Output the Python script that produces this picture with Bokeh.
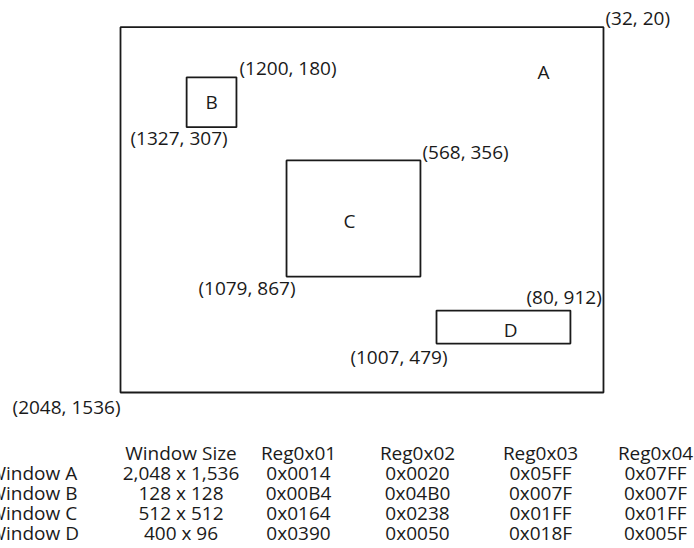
from bokeh.plotting import figure
from bokeh.models import ColumnDataSource, Range1d
from bokeh.layouts import column
from bokeh.embed import file_html
from bokeh.resources import INLINE
from bokeh.core.properties import value

# ---------------- data ----------------
# Windows drawn (schematically) in sensor coordinates: x = column (2048 left .. 32 right), y = row (20 top .. 1536 bottom)
window_names = ["A", "B", "C", "D"]
win_x_left = [2048, 1772, 1355, 729]
win_x_right = [32, 1564, 796, 170]
win_y_top = [20, 228, 573, 1196]
win_y_bottom = [1536, 435, 1055, 1333]
letter_x = [282, 1668, 1092, 420]
letter_y = [204, 332, 826, 1275]

top_right_labels = ["(32, 20)", "(1200, 180)", "(568, 356)", "(80, 912)"]
bottom_left_labels = ["(2048, 1536)", "(1327, 307)", "(1079, 867)", "(1007, 479)"]

# Register table
table_headers = ["Window Size", "Reg0x01", "Reg0x02", "Reg0x03", "Reg0x04"]
row_labels = ["Window A", "Window B", "Window C", "Window D"]
window_sizes = ["2,048 x 1,536", "128 x 128", "512 x 512", "400 x 96"]
reg01 = ["0x0014", "0x00B4", "0x0164", "0x0390"]
reg02 = ["0x0020", "0x04B0", "0x0238", "0x0050"]
reg03 = ["0x05FF", "0x007F", "0x01FF", "0x018F"]
reg04 = ["0x07FF", "0x007F", "0x01FF", "0x005F"]

# ---------------- layout / style ----------------
FONT = value("Open Sans")
FS = "19px"
INK = "#1a1a1a"
tr_dx = [2, 3, 2, -44]
tr_dy = [-9, -9, -8, -14]
bl_dx = [0, 41, 9, 11]
bl_dy = [14, 11, 11, 13]
col_x = [180.5, 298, 417, 540, 655]
label_col_x = -12

W = 694
H1 = 432
H2 = 116

# ---------------- diagram ----------------
p = figure(width=W, height=H1, output_backend="svg", toolbar_location=None,
           x_range=Range1d(2548.9, -347.9), y_range=Range1d(1702, -90.8),
           x_axis_location=None, y_axis_location=None, min_border=0,
           outline_line_color=None, tools="")
p.xgrid.visible = False
p.ygrid.visible = False

src = ColumnDataSource(dict(
    name=window_names, l=win_x_left, r=win_x_right, t=win_y_top, b=win_y_bottom,
    lx=letter_x, ly=letter_y, tr=top_right_labels, bl=bottom_left_labels,
    trdx=tr_dx, trdy=tr_dy, bldx=bl_dx, bldy=bl_dy,
))
p.quad(left="l", right="r", top="t", bottom="b", source=src,
       fill_color=None, line_color=INK, line_width=1.8)
p.text(x="lx", y="ly", text="name", source=src, text_font=FONT, text_font_size=FS,
       text_align="center", text_baseline="middle", text_color=INK)
p.text(x="r", y="t", text="tr", source=src, x_offset="trdx", y_offset="trdy",
       text_font=FONT, text_font_size=FS, text_align="left", text_baseline="middle",
       text_color=INK)
p.text(x="l", y="b", text="bl", source=src, x_offset="bldx", y_offset="bldy",
       text_font=FONT, text_font_size=FS, text_align="right", text_baseline="middle",
       text_color=INK)

# ---------------- table ----------------
# row 0 = header line, rows 1..4 = windows A..D (top to bottom)
header_row = [0] * len(table_headers)
window_rows = list(range(1, len(row_labels) + 1))

t = figure(width=W, height=H2, output_backend="svg", toolbar_location=None,
           x_range=Range1d(0, W), y_range=Range1d(4.8, -1.0),
           x_axis_location=None, y_axis_location=None, min_border=0,
           outline_line_color=None, tools="")
t.xgrid.visible = False
t.ygrid.visible = False

t.text(x=col_x, y=header_row, text=table_headers,
       text_font=FONT, text_font_size=FS, text_align="center", text_baseline="middle",
       text_color=INK)
t.text(x=[label_col_x] * len(row_labels), y=window_rows, text=row_labels,
       text_font=FONT, text_font_size=FS, text_align="left", text_baseline="middle",
       text_color=INK)
for cx, colvals in zip(col_x, [window_sizes, reg01, reg02, reg03, reg04]):
    t.text(x=[cx] * len(colvals), y=window_rows, text=colvals,
           text_font=FONT, text_font_size=FS, text_align="center", text_baseline="middle",
           text_color=INK)

layout = column(p, t, spacing=0)
open("out.html", "w").write(file_html(layout, INLINE))
